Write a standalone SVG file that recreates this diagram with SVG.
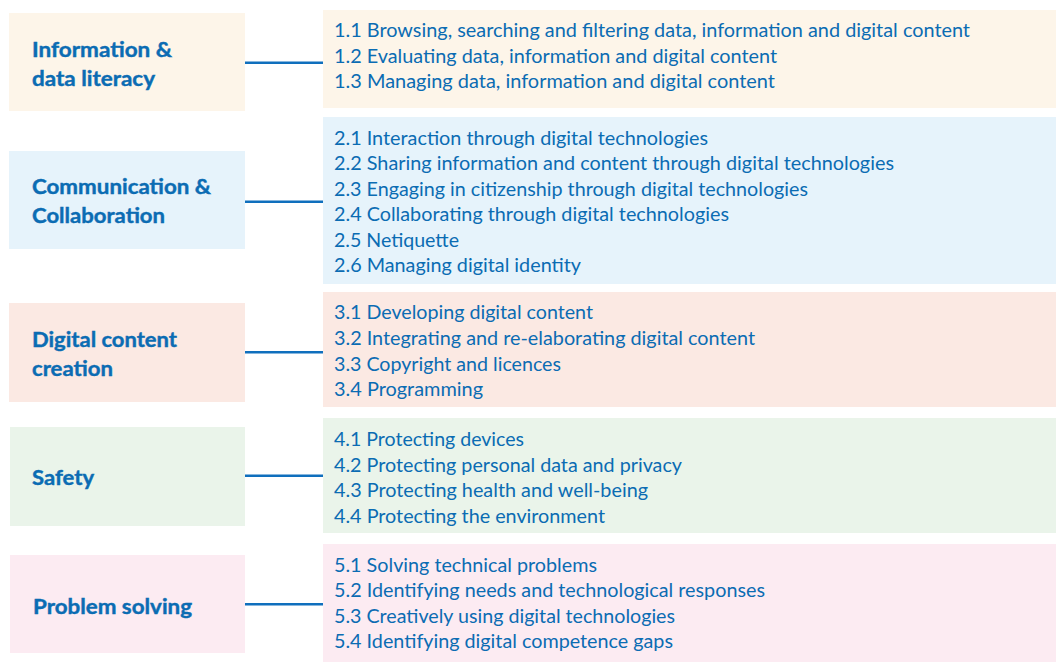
<svg xmlns="http://www.w3.org/2000/svg" width="1056" height="662" viewBox="0 0 1056 662">
<style>
.lbl{font-family:Lato,"Open Sans","Liberation Sans",sans-serif;font-weight:bold;font-size:20px;fill:#0b6cb3;stroke:#0b6cb3;stroke-width:0.4}
.itm{font-family:Lato,"Open Sans","Liberation Sans",sans-serif;font-size:18.5px;fill:#0b6cb3}
.c1{fill:#fdf5e9}.c2{fill:#e6f3fb}.c3{fill:#fbe9e3}.c4{fill:#eaf4ea}.c5{fill:#fcebf2}
.con line{stroke:#0f6fbd;stroke-width:2.4}
</style>
<rect width="1056" height="662" fill="#ffffff"/>
<g id="cat1">
<rect class="c1" x="9" y="13" width="236" height="98"/>
<text class="lbl" x="32" y="57" textLength="140" lengthAdjust="spacingAndGlyphs">Information &amp;</text>
<text class="lbl" x="32" y="86" textLength="123" lengthAdjust="spacingAndGlyphs">data literacy</text>
</g>
<g id="items1">
<rect class="c1" x="323" y="10" width="733" height="98"/>
<text class="itm" x="334" y="36.5" textLength="636" lengthAdjust="spacingAndGlyphs">1.1 Browsing, searching and filtering data, information and digital content</text>
<text class="itm" x="334" y="62.5" textLength="443" lengthAdjust="spacingAndGlyphs">1.2 Evaluating data, information and digital content</text>
<text class="itm" x="334" y="87.5" textLength="441" lengthAdjust="spacingAndGlyphs">1.3 Managing data, information and digital content</text>
</g>
<g id="cat2">
<rect class="c2" x="9" y="151" width="236" height="98"/>
<text class="lbl" x="32" y="194" textLength="179" lengthAdjust="spacingAndGlyphs">Communication &amp;</text>
<text class="lbl" x="32" y="223" textLength="133" lengthAdjust="spacingAndGlyphs">Collaboration</text>
</g>
<g id="items2">
<rect class="c2" x="323" y="117" width="733" height="167"/>
<text class="itm" x="334" y="144.5" textLength="374" lengthAdjust="spacingAndGlyphs">2.1 Interaction through digital technologies</text>
<text class="itm" x="334" y="170" textLength="560" lengthAdjust="spacingAndGlyphs">2.2 Sharing information and content through digital technologies</text>
<text class="itm" x="334" y="195.6" textLength="474" lengthAdjust="spacingAndGlyphs">2.3 Engaging in citizenship through digital technologies</text>
<text class="itm" x="334" y="221.2" textLength="395" lengthAdjust="spacingAndGlyphs">2.4 Collaborating through digital technologies</text>
<text class="itm" x="334" y="246.8" textLength="125" lengthAdjust="spacingAndGlyphs">2.5 Netiquette</text>
<text class="itm" x="334" y="272.4" textLength="247" lengthAdjust="spacingAndGlyphs">2.6 Managing digital identity</text>
</g>
<g id="cat3">
<rect class="c3" x="9" y="303" width="236" height="99"/>
<text class="lbl" x="32" y="347" textLength="145" lengthAdjust="spacingAndGlyphs">Digital content</text>
<text class="lbl" x="32" y="376" textLength="81" lengthAdjust="spacingAndGlyphs">creation</text>
</g>
<g id="items3">
<rect class="c3" x="323" y="292" width="733" height="115"/>
<text class="itm" x="334" y="318.5" textLength="259" lengthAdjust="spacingAndGlyphs">3.1 Developing digital content</text>
<text class="itm" x="334" y="344.5" textLength="421" lengthAdjust="spacingAndGlyphs">3.2 Integrating and re-elaborating digital content</text>
<text class="itm" x="334" y="370.5" textLength="227" lengthAdjust="spacingAndGlyphs">3.3 Copyright and licences</text>
<text class="itm" x="334" y="395.5" textLength="149" lengthAdjust="spacingAndGlyphs">3.4 Programming</text>
</g>
<g id="cat4">
<rect class="c4" x="10" y="427" width="235" height="99"/>
<text class="lbl" x="32" y="485" textLength="62" lengthAdjust="spacingAndGlyphs">Safety</text>
</g>
<g id="items4">
<rect class="c4" x="323" y="418" width="733" height="115"/>
<text class="itm" x="334" y="445.5" textLength="190" lengthAdjust="spacingAndGlyphs">4.1 Protecting devices</text>
<text class="itm" x="334" y="471.5" textLength="348" lengthAdjust="spacingAndGlyphs">4.2 Protecting personal data and privacy</text>
<text class="itm" x="334" y="496.5" textLength="314" lengthAdjust="spacingAndGlyphs">4.3 Protecting health and well-being</text>
<text class="itm" x="334" y="522.5" textLength="271" lengthAdjust="spacingAndGlyphs">4.4 Protecting the environment</text>
</g>
<g id="cat5">
<rect class="c5" x="10" y="555" width="235" height="98"/>
<text class="lbl" x="33" y="614" textLength="159" lengthAdjust="spacingAndGlyphs">Problem solving</text>
</g>
<g id="items5">
<rect class="c5" x="323" y="544" width="733" height="118"/>
<text class="itm" x="334" y="572" textLength="263" lengthAdjust="spacingAndGlyphs">5.1 Solving technical problems</text>
<text class="itm" x="334" y="597" textLength="431" lengthAdjust="spacingAndGlyphs">5.2 Identifying needs and technological responses</text>
<text class="itm" x="334" y="622.5" textLength="341" lengthAdjust="spacingAndGlyphs">5.3 Creatively using digital technologies</text>
<text class="itm" x="334" y="647.5" textLength="339" lengthAdjust="spacingAndGlyphs">5.4 Identifying digital competence gaps</text>
</g>
<g id="connectors" class="con">
<line x1="245" y1="62.7" x2="323" y2="62.7"/>
<line x1="245" y1="201.7" x2="323" y2="201.7"/>
<line x1="245" y1="352.3" x2="323" y2="352.3"/>
<line x1="245" y1="475.7" x2="323" y2="475.7"/>
<line x1="245" y1="604.3" x2="323" y2="604.3"/>
</g>
</svg>
